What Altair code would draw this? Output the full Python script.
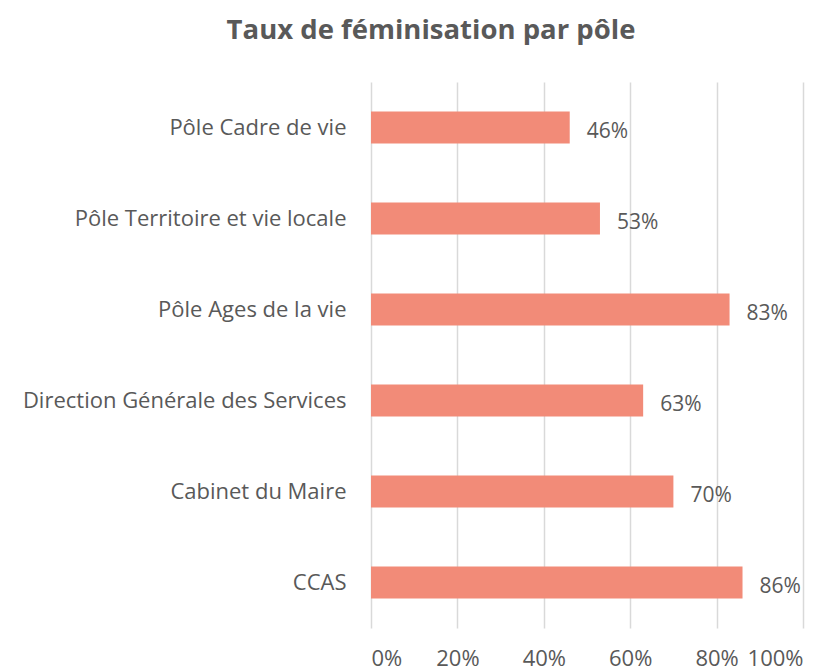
import altair as alt
import pandas as pd

categories = ["Pôle Cadre de vie", "Pôle Territoire et vie locale", "Pôle Ages de la vie",
              "Direction Générale des Services", "Cabinet du Maire", "CCAS"]
values = [0.46, 0.53, 0.83, 0.63, 0.70, 0.86]

df = pd.DataFrame({"cat": categories, "val": values})

FONT = "Open Sans"
GREY = "#595959"

y = alt.Y("cat:N", sort=categories, title=None,
          scale=alt.Scale(paddingInner=0.65, paddingOuter=0.325),
          axis=alt.Axis(domain=False, ticks=False, labelFont=FONT, labelFontSize=22,
                        labelColor=GREY, labelPadding=25, grid=False, labelLimit=400))
x = alt.X("val:Q", title=None, scale=alt.Scale(domain=[0, 1]),
          axis=alt.Axis(format=".0%", values=[0, 0.2, 0.4, 0.6, 0.8, 1.0], domain=False, ticks=False,
                        labelFont=FONT, labelFontSize=22, labelColor=GREY, labelPadding=20,
                        gridColor="#d9d9d9", gridWidth=1.5))

bars = alt.Chart(df).mark_bar(color="#F28B78").encode(x=x, y=y)
labels = alt.Chart(df).mark_text(align="left", dx=17, dy=4, font=FONT, fontSize=21, color=GREY).encode(
    x="val:Q", y=alt.Y("cat:N", sort=categories), text=alt.Text("val:Q", format=".0%"))

chart = (bars + labels).properties(
    width=432, height=546,
    autosize=alt.AutoSizeParams(type="none"),
    padding={"left": 363, "top": 74, "right": 20, "bottom": 48},
    title=alt.TitleParams("Taux de féminisation par pôle", font=FONT, fontSize=27.5, fontWeight="bold",
                          color=GREY, anchor="middle", dx=-156, offset=38),
).configure_view(stroke=None)

chart.save("out.html", embed_options={"renderer": "svg", "actions": False})
